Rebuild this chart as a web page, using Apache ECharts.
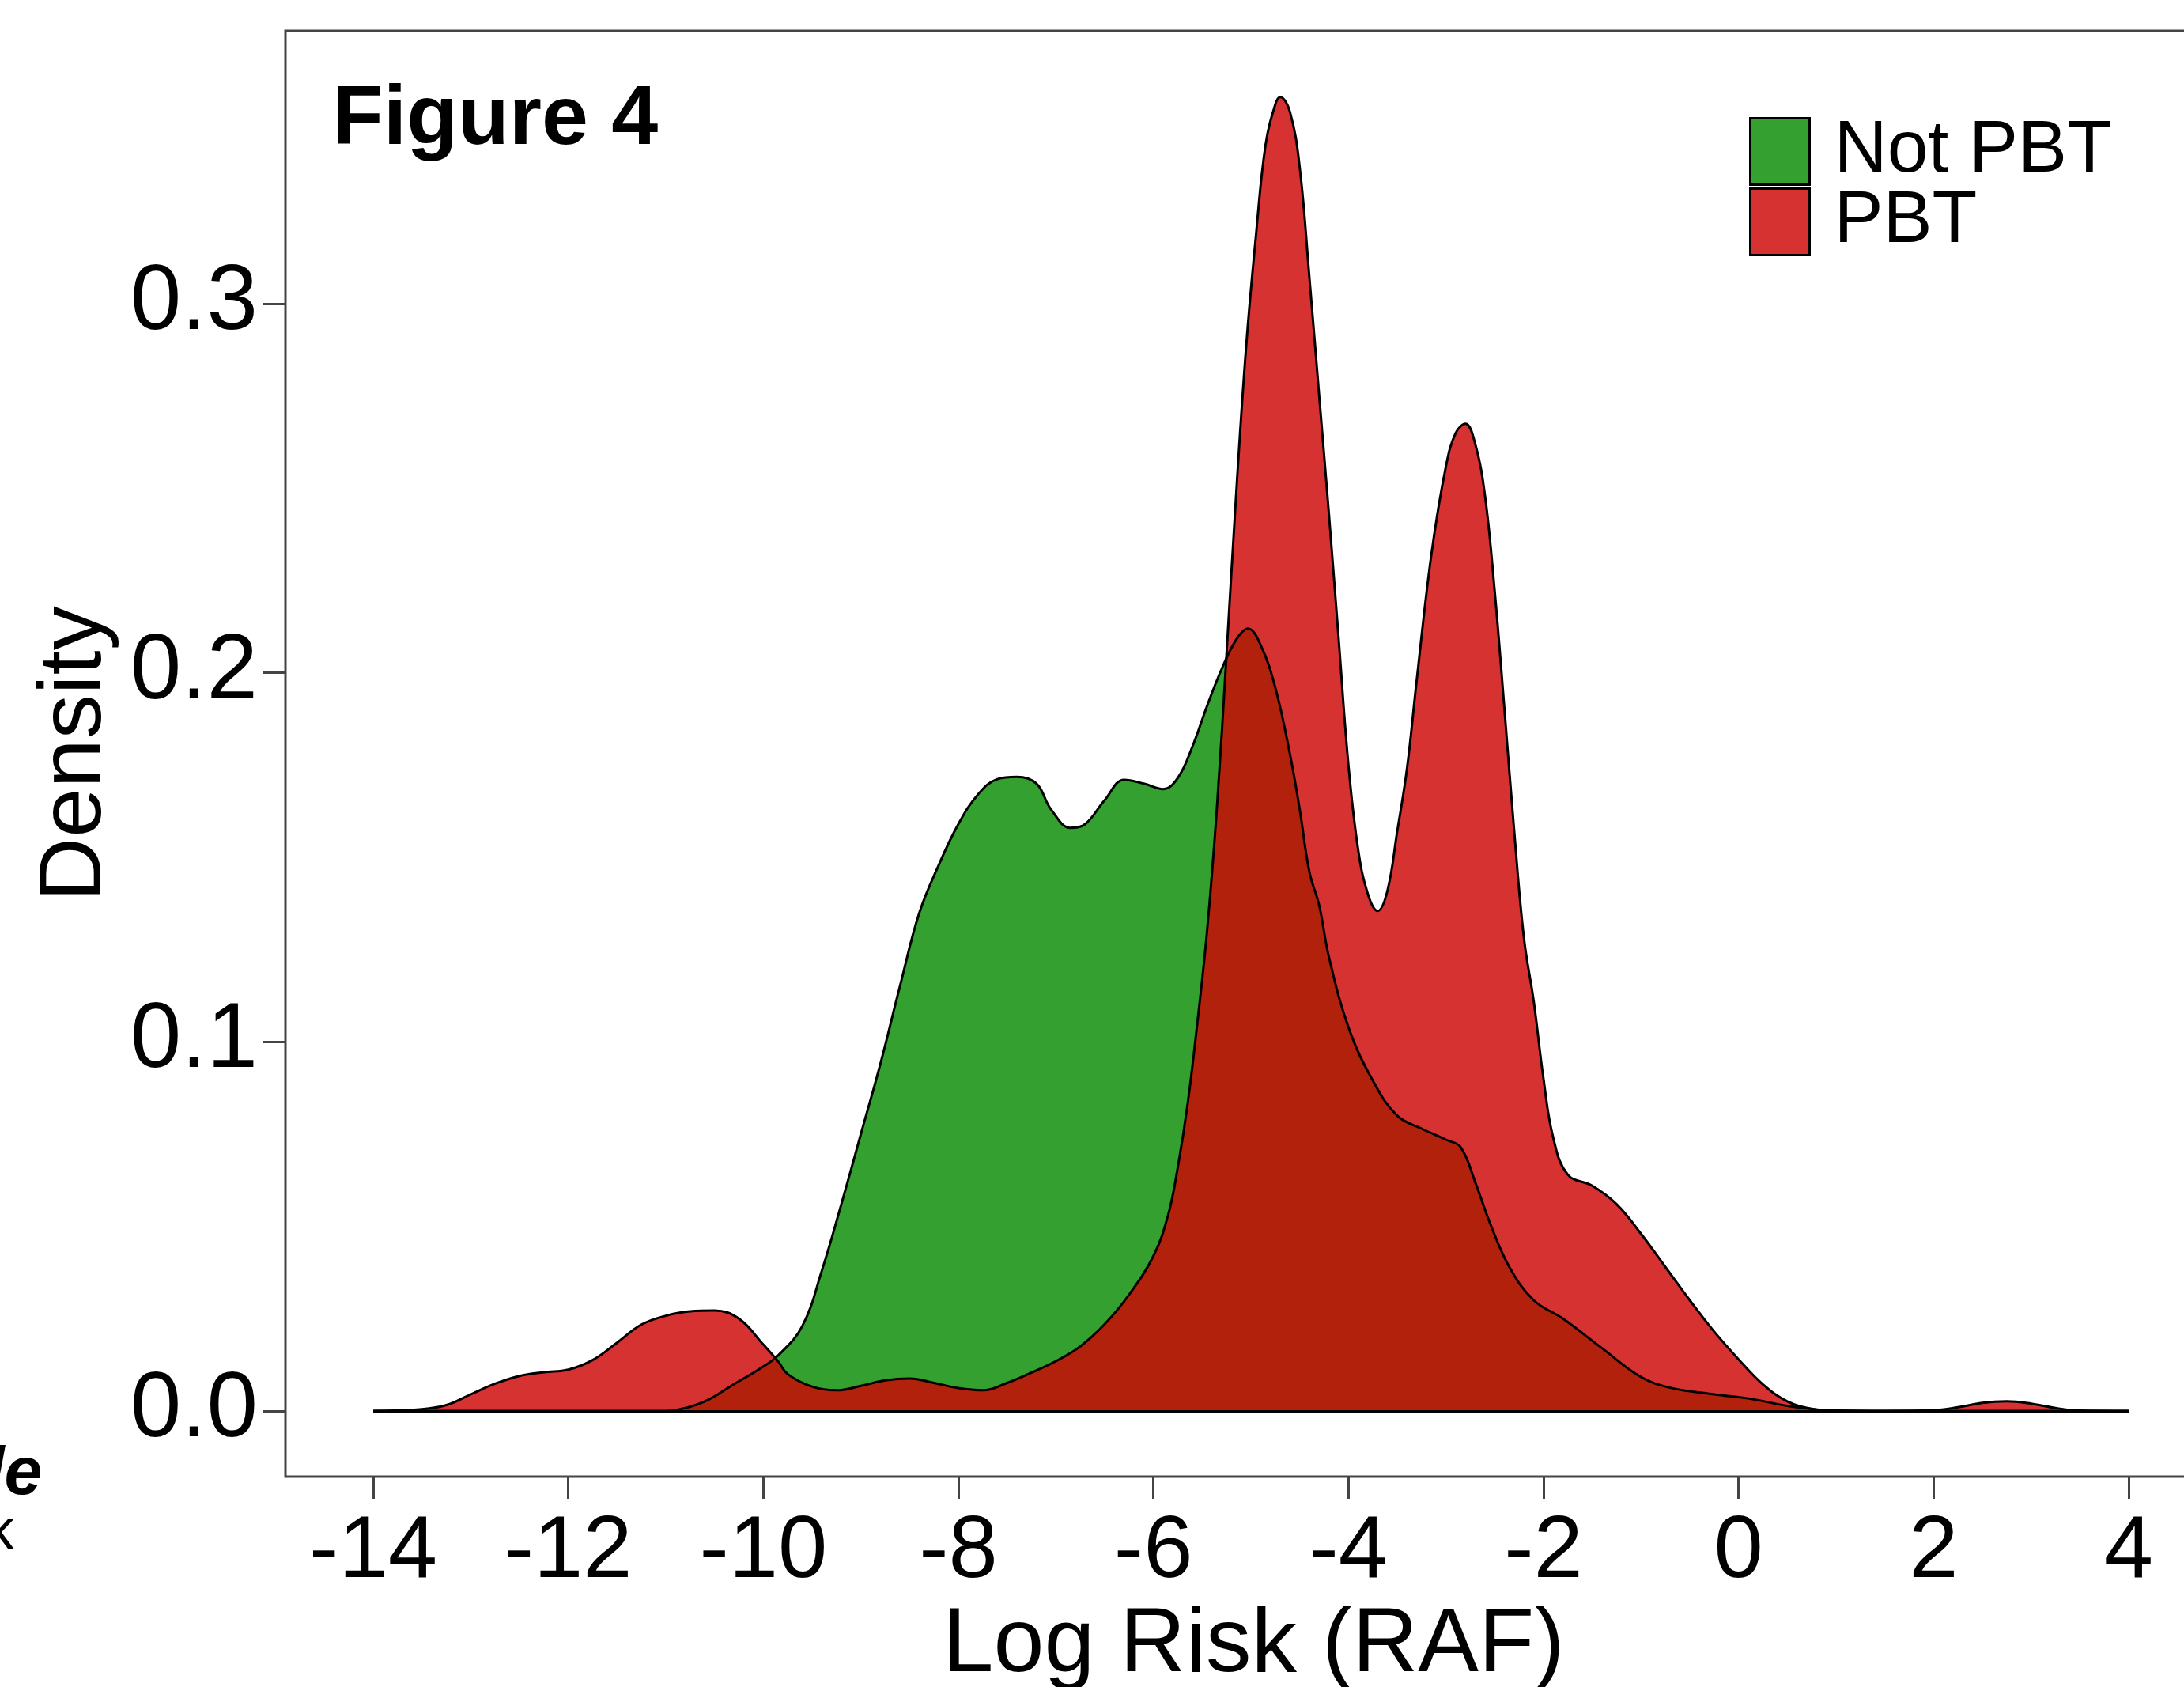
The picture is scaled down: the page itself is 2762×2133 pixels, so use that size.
<!DOCTYPE html>
<html>
<head>
<meta charset="utf-8">
<script src="https://cdn.jsdelivr.net/npm/echarts@6/dist/echarts.min.js"></script>
<style>
  html, body { margin: 0; padding: 0; background: #fff; }
  #chart { width: 2762px; height: 2133px; }
</style>
</head>
<body>
<div id="chart"></div>
<script>
// ---- data ----
const seriesNames = ['Not PBT', 'PBT'];

const notPbtX = [-14, -11.0, -10.9, -10.6, -10.3, -10.05, -9.85, -9.6, -9.4, -9.2, -9.0, -8.8, -8.6, -8.4, -8.2, -8.0,
  -7.8, -7.6, -7.4, -7.2, -7.05, -6.85, -6.7, -6.5, -6.3, -6.1, -5.9, -5.75, -5.6, -5.45, -5.3, -5.15, -5.03,
  -4.9, -4.75, -4.6, -4.5, -4.4, -4.3, -4.2, -4.0, -3.75, -3.5, -3.25, -3.0, -2.85, -2.7, -2.55, -2.35, -2.1,
  -1.8, -1.4, -1.0, -0.7, -0.25, 0.1, 0.5, 0.8, 1.0, 1.5, 4.0];
const notPbtY = [0, 0, 0.0002, 0.0026, 0.0073, 0.0112, 0.015, 0.023, 0.038, 0.056, 0.075, 0.094, 0.115, 0.135, 0.148, 0.159,
  0.167, 0.1712, 0.1718, 0.170, 0.163, 0.158, 0.159, 0.1655, 0.171, 0.170, 0.1685, 0.1715, 0.180, 0.191, 0.201, 0.209, 0.212,
  0.2075, 0.196, 0.178, 0.163, 0.146, 0.137, 0.123, 0.104, 0.0895, 0.080, 0.0765, 0.0735, 0.0715, 0.062, 0.051, 0.039, 0.030,
  0.025, 0.017, 0.0092, 0.0063, 0.0045, 0.0034, 0.0014, 0.0004, 0.0001, 0, 0];

const pbtX = [-14.0, -13.5, -13.25, -13.0, -12.75, -12.5, -12.25, -12.0, -11.75, -11.5, -11.25, -11.0, -10.75, -10.5,
  -10.25, -10.0, -9.85, -9.75, -9.5, -9.25, -9.0, -8.75, -8.5, -8.25, -8.0, -7.75, -7.5, -7.25, -7.0, -6.75, -6.5,
  -6.25, -6.0, -5.85, -5.75, -5.65, -5.55, -5.45, -5.35, -5.25, -5.15, -5.05, -4.95, -4.85, -4.75, -4.7, -4.6, -4.5,
  -4.4, -4.3, -4.2, -4.1, -4.0, -3.9, -3.8, -3.7, -3.6, -3.5, -3.4, -3.3, -3.15, -3.0, -2.9, -2.8, -2.7, -2.6, -2.5,
  -2.4, -2.3, -2.2, -2.1, -2.0, -1.9, -1.75, -1.5, -1.25, -1.0, -0.75, -0.5, -0.25, 0.0, 0.25, 0.5, 0.75, 1.0, 1.5,
  2.0, 2.25, 2.5, 2.75, 3.0, 3.25, 3.5, 4.0];
const pbtY = [0, 0.0005, 0.0016, 0.0045, 0.0074, 0.0095, 0.0105, 0.0112, 0.0138, 0.0185, 0.0234, 0.0258, 0.027, 0.0272,
  0.025, 0.018, 0.0135, 0.0100, 0.0066, 0.0056, 0.0068, 0.0083, 0.0088, 0.0076, 0.0062, 0.0056, 0.0076, 0.0104, 0.0135, 0.0175, 0.0235,
  0.0315, 0.042, 0.053, 0.066, 0.083, 0.105, 0.130, 0.163, 0.205, 0.249, 0.288, 0.318, 0.343, 0.354, 0.356, 0.352, 0.337,
  0.307, 0.275, 0.243, 0.209, 0.175, 0.152, 0.140, 0.1355, 0.141, 0.157, 0.174, 0.198, 0.232, 0.256, 0.265, 0.2675, 0.262, 0.248, 0.222,
  0.190, 0.157, 0.128, 0.111, 0.090, 0.074, 0.064, 0.061, 0.056, 0.048, 0.039, 0.030, 0.0215, 0.014, 0.0072, 0.0026, 0.0006, 0.0001, 0,
  0.0002, 0.0010, 0.0022, 0.0026, 0.0020, 0.0008, 0.0001, 0];

const xTicks = [-14, -12, -10, -8, -6, -4, -2, 0, 2, 4];
const yTicks = [0, 0.1, 0.2, 0.3];

// ---- build ----
const FONT = 'Liberation Sans, Arial, sans-serif';
const GREEN = 'rgb(51,160,47)';
const RED = 'rgba(205,5,5,0.82)';
const notPbtData = notPbtX.map((x, i) => [x, notPbtY[i]]);
const pbtData = pbtX.map((x, i) => [x, pbtY[i]]);
const xLo = Math.min(pbtX[0], notPbtX[0]);
const xHi = Math.max(pbtX[pbtX.length - 1], notPbtX[notPbtX.length - 1]);

const chart = echarts.init(document.getElementById('chart'), null, { renderer: 'canvas' });
chart.setOption({
  animation: false,
  backgroundColor: '#fff',
  title: {
    text: 'Figure 4', left: 420, top: 100, padding: 0,
    textStyle: { fontFamily: FONT, fontSize: 106, fontWeight: 'bold', color: '#000' }
  },
  legend: {
    orient: 'vertical', left: 2212, top: 145, padding: 0,
    itemWidth: 75, itemHeight: 84, itemGap: -4, selectedMode: false,
    textStyle: { fontFamily: FONT, fontSize: 93, color: '#000', lineHeight: 84, padding: [0, 0, 0, 26] },
    data: [
      { name: seriesNames[0], icon: 'rect', itemStyle: { color: GREEN, borderColor: '#000', borderWidth: 3 } },
      { name: seriesNames[1], icon: 'rect', itemStyle: { color: RED, borderColor: '#000', borderWidth: 3 } }
    ]
  },
  grid: {
    left: 361, top: 39, width: 2421, height: 1828,
    outerBoundsMode: 'none', containLabel: false,
    show: true, borderColor: '#444', borderWidth: 3, backgroundColor: 'transparent'
  },
  xAxis: {
    type: 'value', min: -14.9, max: 4.73,
    name: 'Log Risk (RAF)', nameLocation: 'middle', nameGap: 133,
    nameTextStyle: { fontFamily: FONT, fontSize: 115, color: '#000', padding: [0, 0, 0, 28] },
    axisLine: { show: false, onZero: false },
    axisTick: { show: true, customValues: xTicks, length: 28, lineStyle: { color: '#444', width: 3 } },
    axisLabel: { customValues: xTicks, margin: 40, fontFamily: FONT, fontSize: 112, color: '#000',
      formatter: v => String(v) },
    splitLine: { show: false }
  },
  yAxis: {
    type: 'value', min: -0.017786, max: 0.37393,
    name: 'Density', nameLocation: 'middle', nameGap: 209, nameRotate: 90,
    nameTextStyle: { fontFamily: FONT, fontSize: 112, color: '#000' },
    axisLine: { show: false, onZero: false },
    axisTick: { show: true, customValues: yTicks, length: 28, lineStyle: { color: '#444', width: 3 } },
    axisLabel: { customValues: yTicks, margin: 35, fontFamily: FONT, fontSize: 116, color: '#000',
      formatter: v => v.toFixed(1) },
    splitLine: { show: false }
  },
  series: [
    {
      name: seriesNames[0], type: 'line', data: notPbtData,
      smooth: 0.4, symbol: 'none', silent: true,
      lineStyle: { color: '#000', width: 3 },
      itemStyle: { color: GREEN },
      areaStyle: { color: GREEN, opacity: 1 }
    },
    {
      name: seriesNames[1], type: 'line', data: pbtData,
      smooth: 0.4, symbol: 'none', silent: true,
      lineStyle: { color: '#000', width: 3 },
      itemStyle: { color: RED },
      areaStyle: { color: RED, opacity: 1 },
      markLine: {
        silent: true, symbol: 'none', label: { show: false },
        lineStyle: { color: '#000', width: 3, type: 'solid' },
        data: [[{ coord: [xLo, 0] }, { coord: [xHi, 0] }]]
      }
    }
  ],
  graphic: [
    { type: 'text', x: -47, y: 1822,
      style: { text: 'de', font: 'italic bold 86px ' + FONT, fill: '#000' } },
    { type: 'text', x: -18, y: 1903,
      style: { text: 'k', font: '72px ' + FONT, fill: '#000' } }
  ]
});
</script>
</body>
</html>
